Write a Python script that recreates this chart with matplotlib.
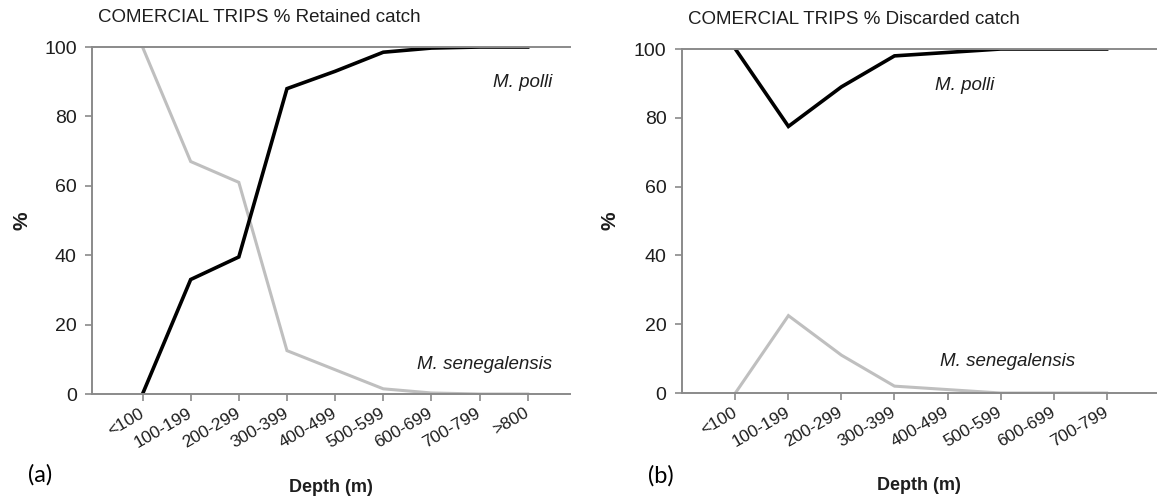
"""Two-panel line chart: retained vs discarded catch share by depth."""

import matplotlib
matplotlib.use("Agg")
import matplotlib.pyplot as plt

plt.rcParams["font.family"] = ["Liberation Sans", "DejaVu Sans"]

depth_a = ["<100", "100-199", "200-299", "300-399", "400-499",
           "500-599", "600-699", "700-799", ">800"]
polli_a = [0, 33, 39.5, 88, 93, 98.5, 99.7, 100, 100]
seneg_a = [100, 67, 61, 12.5, 7, 1.5, 0.3, 0, 0]

depth_b = ["<100", "100-199", "200-299", "300-399", "400-499",
           "500-599", "600-699", "700-799"]
polli_b = [100, 77.5, 89, 98, 99, 100, 100, 100]
seneg_b = [0, 22.5, 11, 2, 1, 0, 0, 0]

AXIS_GREY = "#8a8a8a"
LIGHT = "#bfbfbf"
TEXT = "#1e1e1e"


def draw_panel(ax, labels, polli, seneg, title, xlim, ylab_x):
    x = list(range(len(labels)))
    ax.plot(x, seneg, color=LIGHT, lw=2.2, solid_joinstyle="miter")
    ax.plot(x, polli, color="black", lw=2.6, solid_joinstyle="miter")
    ax.set_xlim(*xlim)
    ax.set_ylim(0, 100)
    ax.set_yticks([0, 20, 40, 60, 80, 100])
    ax.set_xticks(x)
    ax.set_xticklabels(labels, rotation=30, ha="right", va="center",
                       rotation_mode="anchor", fontsize=12.5, color=TEXT)
    ax.tick_params(axis="y", labelsize=14, labelcolor=TEXT, pad=6,
                   length=5, width=1.2, color=AXIS_GREY)
    ax.tick_params(axis="x", length=5, width=1.2, color=AXIS_GREY, pad=8)
    for side in ["left", "bottom", "top"]:
        ax.spines[side].set_color(AXIS_GREY)
        ax.spines[side].set_linewidth(1.4)
    ax.spines["right"].set_visible(False)
    ax.set_ylabel("%", fontsize=15, fontweight="bold", color=TEXT)
    ax.yaxis.set_label_coords(ylab_x, 0.5)
    ax.yaxis.label.set_va("center")
    ax.set_xlabel("Depth (m)", fontsize=13, fontweight="bold", color=TEXT)
    ax.xaxis.set_label_coords(0.5, -0.268)
    ax.xaxis.label.set_va("center")
    ax.set_title(title, loc="left", fontsize=13.5, color=TEXT, pad=18,
                 x=0.012)


fig = plt.figure(figsize=(11.57, 4.98), dpi=100)
ax_a = fig.add_axes([0.0795, 0.2088, 0.4132, 0.6968])
ax_b = fig.add_axes([0.5893, 0.2108, 0.4107, 0.6908])

draw_panel(ax_a, depth_a, polli_a, seneg_a,
           "COMERCIAL TRIPS % Retained catch", (-1.05, 8.88), -0.146)
draw_panel(ax_b, depth_b, polli_b, seneg_b,
           "COMERCIAL TRIPS % Discarded catch", (-1.01, 7.95), -0.151)

ax_a.text(8.50, 89.9, "M. polli", fontsize=13.5, style="italic",
          ha="right", va="center", color=TEXT)
ax_a.text(8.50, 8.4, "M. senegalensis", fontsize=13.5, style="italic",
          ha="right", va="center", color=TEXT)
ax_b.text(4.33, 89.5, "M. polli", fontsize=13.5, style="italic",
          ha="center", va="center", color=TEXT)
ax_b.text(5.13, 9.1, "M. senegalensis", fontsize=13.5, style="italic",
          ha="center", va="center", color=TEXT)

fig.text(0.0346, 0.046, "(a)", fontsize=17, ha="center", va="center",
         family=["Lato", "DejaVu Sans"])
fig.text(0.571, 0.044, "(b)", fontsize=17, ha="center", va="center",
         family=["Lato", "DejaVu Sans"])

fig.savefig("out.png", dpi=100)
